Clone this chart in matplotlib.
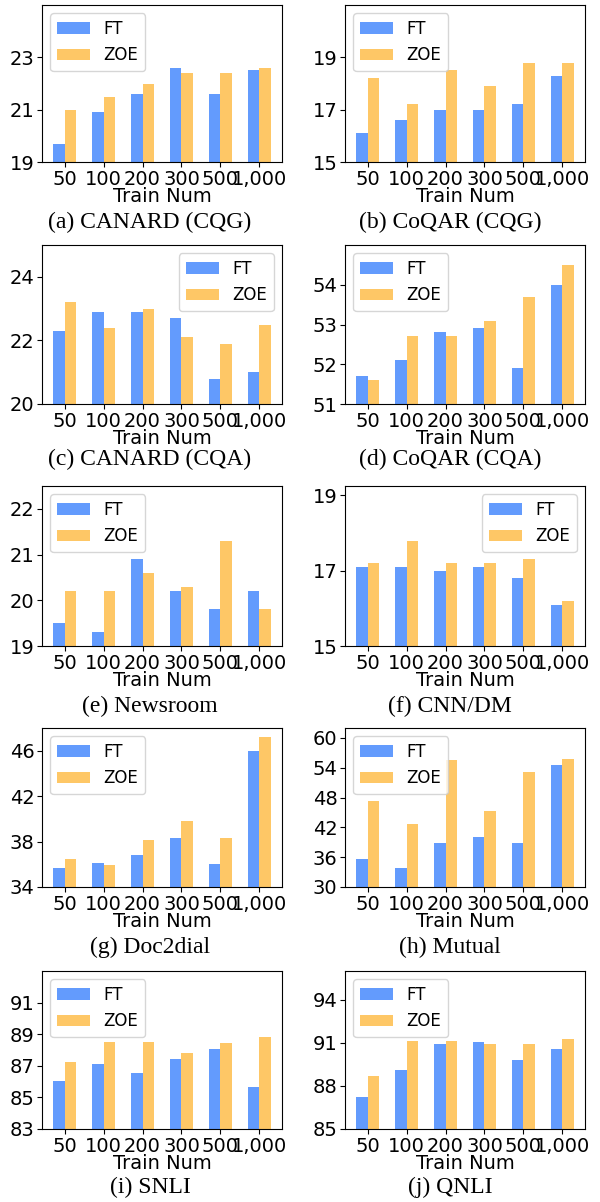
import matplotlib
matplotlib.use("Agg")
import matplotlib.pyplot as plt
import numpy as np

TRAIN_NUM = ["50", "100", "200", "300", "500", "1,000"]

# (a) CANARD (CQG)
canard_cqg_ft = [19.7, 20.9, 21.6, 22.6, 21.6, 22.5]
canard_cqg_zoe = [21.0, 21.5, 22.0, 22.4, 22.4, 22.6]
# (b) CoQAR (CQG)
coqar_cqg_ft = [16.1, 16.6, 17.0, 17.0, 17.2, 18.3]
coqar_cqg_zoe = [18.2, 17.2, 18.5, 17.9, 18.8, 18.8]
# (c) CANARD (CQA)
canard_cqa_ft = [22.3, 22.9, 22.9, 22.7, 20.8, 21.0]
canard_cqa_zoe = [23.2, 22.4, 23.0, 22.1, 21.9, 22.5]
# (d) CoQAR (CQA)
coqar_cqa_ft = [51.7, 52.1, 52.8, 52.9, 51.9, 54.0]
coqar_cqa_zoe = [51.6, 52.7, 52.7, 53.1, 53.7, 54.5]
# (e) Newsroom
newsroom_ft = [19.5, 19.3, 20.9, 20.2, 19.8, 20.2]
newsroom_zoe = [20.2, 20.2, 20.6, 20.3, 21.3, 19.8]
# (f) CNN/DM
cnndm_ft = [17.1, 17.1, 17.0, 17.1, 16.8, 16.1]
cnndm_zoe = [17.2, 17.8, 17.2, 17.2, 17.3, 16.2]
# (g) Doc2dial
doc2dial_ft = [35.7, 36.1, 36.85, 38.35, 36.05, 46.0]
doc2dial_zoe = [36.5, 35.9, 38.1, 39.85, 38.35, 47.2]
# (h) Mutual
mutual_ft = [35.7, 33.9, 38.9, 40.15, 38.9, 54.5]
mutual_zoe = [47.4, 42.6, 55.5, 45.2, 53.1, 55.7]
# (i) SNLI
snli_ft = [86.03, 87.1, 86.54, 87.42, 88.05, 85.65]
snli_zoe = [87.23, 88.5, 88.5, 87.8, 88.43, 88.8]
# (j) QNLI
qnli_ft = [87.2, 89.1, 90.9, 91.04, 89.8, 90.6]
qnli_zoe = [88.7, 91.1, 91.1, 90.9, 90.9, 91.3]

PANELS = [
    ("(a) CANARD (CQG)", canard_cqg_ft, canard_cqg_zoe, (19, 25), [19, 21, 23], "upper left"),
    ("(b) CoQAR (CQG)", coqar_cqg_ft, coqar_cqg_zoe, (15, 21), [15, 17, 19], "upper left"),
    ("(c) CANARD (CQA)", canard_cqa_ft, canard_cqa_zoe, (20, 25), [20, 22, 24], "upper right"),
    ("(d) CoQAR (CQA)", coqar_cqa_ft, coqar_cqa_zoe, (51, 55), [51, 52, 53, 54], "upper left"),
    ("(e) Newsroom", newsroom_ft, newsroom_zoe, (19, 22.5), [19, 20, 21, 22], "upper left"),
    ("(f) CNN/DM", cnndm_ft, cnndm_zoe, (15, 19.25), [15, 17, 19], "upper right"),
    ("(g) Doc2dial", doc2dial_ft, doc2dial_zoe, (34, 48), [34, 38, 42, 46], "upper left"),
    ("(h) Mutual", mutual_ft, mutual_zoe, (30, 62), [30, 36, 42, 48, 54, 60], "upper left"),
    ("(i) SNLI", snli_ft, snli_zoe, (83, 93), [83, 85, 87, 89, 91], "upper left"),
    ("(j) QNLI", qnli_ft, qnli_zoe, (85, 96), [85, 88, 91, 94], "upper left"),
]

BLUE = "#639bfd"
YELLOW = "#fec766"

W, H = 600, 1202
fig = plt.figure(figsize=(W / 100, H / 100), dpi=100)

# axes boxes in pixels: (top, bottom) per row, (left, right) per column
ROWS = [(5, 162), (245, 404), (486, 646), (728, 887), (971, 1129)]
COLS = [(42, 282), (345, 585)]
CAPTION_Y = [222, 459, 706, 947, 1187]

x = np.arange(len(TRAIN_NUM))
bw = 0.3

for k, (title, ft, zoe, ylim, yticks, loc) in enumerate(PANELS):
    r, c = divmod(k, 2)
    top, bot = ROWS[r]
    left, right = COLS[c]
    ax = fig.add_axes([left / W, 1 - bot / H, (right - left) / W, (bot - top) / H])
    ax.bar(x - bw / 2, ft, bw, color=BLUE, label="FT")
    ax.bar(x + bw / 2, zoe, bw, color=YELLOW, label="ZOE")
    ax.set_ylim(*ylim)
    ax.set_yticks(yticks)
    ax.set_xticks(x)
    ax.set_xticklabels(TRAIN_NUM)
    ax.tick_params(labelsize=14, pad=2)
    ax.set_xlabel("Train Num", fontsize=14, labelpad=-1)
    ax.legend(loc=loc, fontsize=12)
    fig.text((150 + 300 * c) / W, 1 - CAPTION_Y[r] / H, title,
             ha="center", va="center", fontsize=17, family="Liberation Serif")

fig.savefig("out.png", dpi=100)
